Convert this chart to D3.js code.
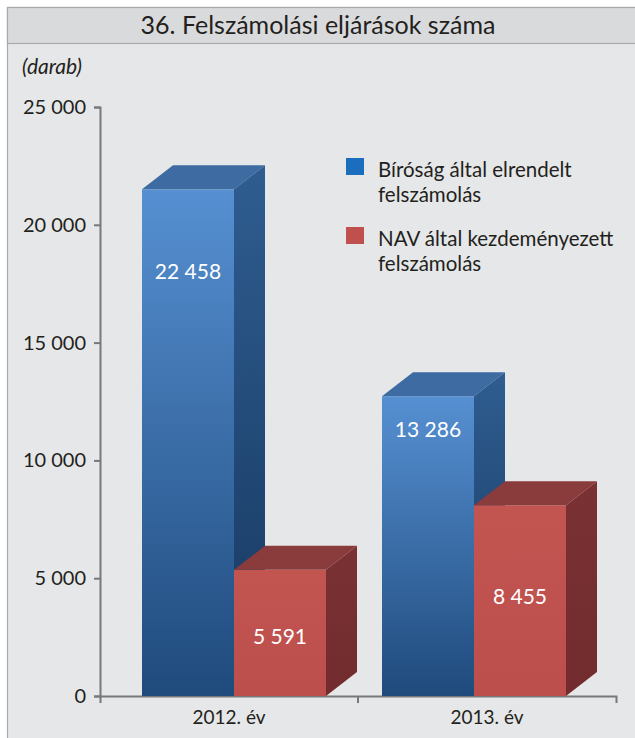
<!DOCTYPE html>
<html lang="hu">
<head>
<meta charset="utf-8">
<title>36. Felszámolási eljárások száma</title>
<script src="https://cdn.jsdelivr.net/npm/d3@7"></script>
<style>
  body { margin: 0; background: #fff; }
  text { font-family: Lato, "Noto Sans", sans-serif; fill: #231f20; }
</style>
</head>
<body>
<svg id="chart" width="635" height="738"></svg>
<script>
// data
const years = ["2012. év", "2013. év"];
const seriesNames = ["Bíróság által elrendelt felszámolás", "NAV által kezdeményezett felszámolás"];
const birosag = [22458, 13286];
const nav = [5591, 8455];
const yTicks = [0, 5000, 10000, 15000, 20000, 25000];
const legendLines = [["Bíróság által elrendelt", "felszámolás"], ["NAV által kezdeményezett", "felszámolás"]];

// layout
const depthX = 31, depthY = 24;
const barW = 92;
const labelDy = [[83, 34], [67, 92]]; // label offset below front top, per series / year

const fmt = d3.formatLocale({ decimal: ",", thousands: " ", grouping: [3], currency: ["", ""] }).format(",d");

const svg = d3.select("#chart");

// frame + title band
svg.append("rect").attr("x", 7.5).attr("y", 7.5).attr("width", 640).attr("height", 740)
  .attr("fill", "#e6e7e8").attr("stroke", "#a7a9ac").attr("stroke-width", 1.2);
svg.append("rect").attr("x", 7.5).attr("y", 7.5).attr("width", 640).attr("height", 36)
  .attr("fill", "#d9dadb").attr("stroke", "#a7a9ac").attr("stroke-width", 1.2);
svg.append("text").attr("x", 318).attr("y", 34).attr("text-anchor", "middle")
  .style("font-size", "25px").text("36. Felszámolási eljárások száma");
svg.append("text").attr("x", 22).attr("y", 74).style("font-size", "21px").style("font-style", "italic")
  .text("(darab)");

// scales
const yAxisScale = d3.scaleLinear().domain([0, 25000]).range([696, 107]);
const yBack = d3.scaleLinear().domain([0, 25000]).range([696 - depthY, 108]);
const xAxisScale = d3.scaleBand().domain(years).range([100, 616]);
const xBar = d3.scaleBand().domain(years).range([114, 594]);
const xSub = d3.scaleBand().domain(seriesNames).range([0, barW * 2]);

// gradients
const defs = svg.append("defs");
function grad(id, c0, c1) {
  const g = defs.append("linearGradient").attr("id", id).attr("x1", 0).attr("y1", 0).attr("x2", 0).attr("y2", 1);
  g.append("stop").attr("offset", "0%").attr("stop-color", c0);
  g.append("stop").attr("offset", "100%").attr("stop-color", c1);
}
grad("blueFront", "#5690d2", "#1f4a7c");
grad("blueSide", "#2f5d90", "#163860");
grad("redFront", "#c25550", "#bc4f4c");
grad("redSide", "#7a3133", "#722c2e");

const styles = [
  { front: "url(#blueFront)", top: "#3d6ba2", side: "url(#blueSide)", legend: "#1b6ebd" },
  { front: "url(#redFront)", top: "#8a3c3c", side: "url(#redSide)", legend: "#c0504d" }
];

// axes
const yAxis = d3.axisLeft(yAxisScale).tickValues(yTicks).tickSize(6).tickSizeOuter(6)
  .tickPadding(8).tickFormat(fmt);
const gy = svg.append("g").attr("transform", "translate(100,0)").call(yAxis);
gy.selectAll("text").style("font-size", "20px");

const xAxis = d3.axisBottom(xAxisScale).tickSize(0).tickSizeOuter(7).tickPadding(15);
const gx = svg.append("g").attr("transform", "translate(0,696)").call(xAxis);
gx.selectAll("text").style("font-size", "19px");
gx.append("line").attr("x1", xAxisScale(years[1])).attr("x2", xAxisScale(years[1]))
  .attr("y1", 0).attr("y2", 7);
[gx, gy].forEach(g => {
  g.selectAll("path, line").attr("stroke", "#77787b").attr("stroke-width", 2);
  g.selectAll("text").attr("fill", "#231f20");
});

// bars
const values = [birosag, nav];
const bars = [];
years.forEach((yr, i) => {
  seriesNames.forEach((s, j) => {
    bars.push({ year: yr, series: s, si: j, yi: i, value: values[j][i] });
  });
});

const gBars = svg.append("g");
bars.forEach(b => {
  const x0 = xBar(b.year) + (xBar.bandwidth() - barW * 2) / 2 + xSub(b.series);
  const x1 = x0 + barW;
  const yf = yBack(b.value) + depthY;
  const yb = yAxisScale(0);
  const st = styles[b.si];
  const g = gBars.append("g");
  g.append("rect").attr("x", x0).attr("y", yf).attr("width", barW).attr("height", yb - yf)
    .attr("fill", st.front);
  g.append("polygon").attr("fill", st.top)
    .attr("points", [[x0, yf], [x0 + depthX, yf - depthY], [x1 + depthX, yf - depthY], [x1, yf]].join(" "));
  g.append("polygon").attr("fill", st.side)
    .attr("points", [[x1, yf], [x1 + depthX, yf - depthY], [x1 + depthX, yb - depthY], [x1, yb]].join(" "));
  b.x0 = x0; b.yf = yf;
});
bars.forEach(b => {
  gBars.append("text").attr("x", b.x0 + barW / 2).attr("y", b.yf + labelDy[b.si][b.yi] + 7)
    .attr("text-anchor", "middle").style("font-size", "21px").style("fill", "#fff")
    .text(fmt(b.value));
});

// legend
const legend = svg.append("g").attr("transform", "translate(346,0)");
[158, 227].forEach((y, j) => {
  legend.append("rect").attr("x", 0).attr("y", y).attr("width", 18).attr("height", 17)
    .attr("fill", styles[j].legend);
  legendLines[j].forEach((ln, k) => {
    legend.append("text").attr("x", 32).attr("y", y + 19 + k * 25).style("font-size", "20.5px").text(ln);
  });
});
</script>
</body>
</html>
